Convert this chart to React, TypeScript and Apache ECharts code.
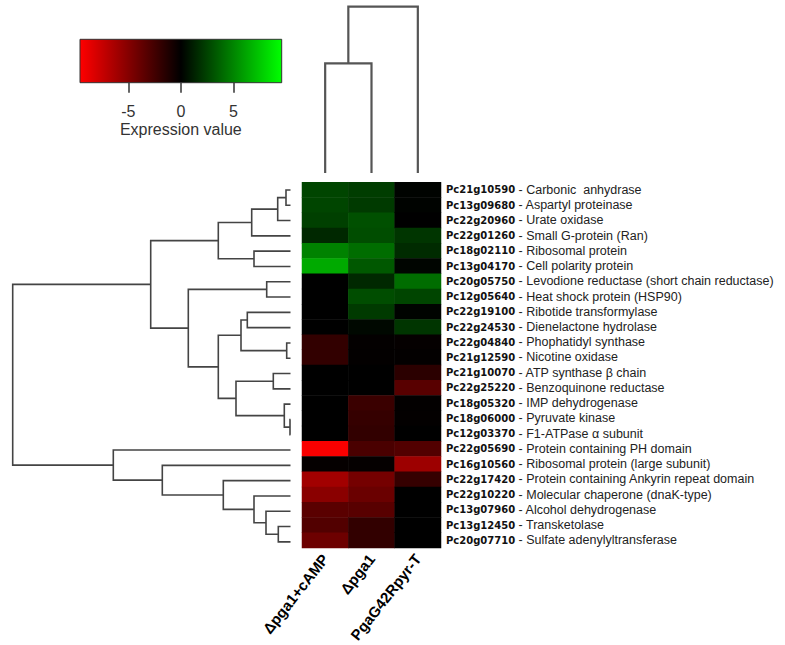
import React, { useEffect, useRef } from "react";
import * as echarts from "echarts";

// ---- data ----
const columns = ["Δpga1+cAMP", "Δpga1", "PgaG42Rpyr-T"];

const geneIds = [
  "Pc21g10590", "Pc13g09680", "Pc22g20960", "Pc22g01260", "Pc18g02110", "Pc13g04170",
  "Pc20g05750", "Pc12g05640", "Pc22g19100", "Pc22g24530", "Pc22g04840", "Pc21g12590",
  "Pc21g10070", "Pc22g25220", "Pc18g05320", "Pc18g06000", "Pc12g03370", "Pc22g05690",
  "Pc16g10560", "Pc22g17420", "Pc22g10220", "Pc13g07960", "Pc13g12450", "Pc20g07710",
];

const geneNames = [
  "Carbonic  anhydrase", "Aspartyl proteinase", "Urate oxidase", "Small G-protein (Ran)",
  "Ribosomal protein", "Cell polarity protein", "Levodione reductase (short chain reductase)",
  "Heat shock protein (HSP90)", "Ribotide transformylase", "Dienelactone hydrolase",
  "Phophatidyl synthase", "Nicotine oxidase", "ATP synthase β chain", "Benzoquinone reductase",
  "IMP dehydrogenase", "Pyruvate kinase", "F1-ATPase α subunit", "Protein containing PH domain",
  "Ribosomal protein (large subunit)", "Protein containing Ankyrin repeat domain",
  "Molecular chaperone (dnaK-type)", "Alcohol dehydrogenase", "Transketolase",
  "Sulfate adenylyltransferase",
];

const valuesPga1cAMP = [
  2.6, 2.6, 2.4, 1.5, 4.9, 6.4, 0.0, 0.0, 0.0, 0.0, -1.9, -1.9,
  0.0, 0.0, 0.0, 0.0, 0.0, -9.4, -0.2, -6.1, -5.2, -3.4, -3.1, -4.1,
];
const valuesPga1 = [
  2.3, 2.2, 3.0, 2.9, 4.1, 3.3, 1.5, 2.9, 2.2, 0.3, -0.1, -0.1,
  0.0, 0.0, -2.2, -2.0, -1.9, -2.8, -0.2, -4.4, -4.0, -3.3, -1.9, -1.9,
];
const valuesPyrT = [
  0.1, 0.1, 0.0, 2.0, 1.6, 0.2, 4.1, 2.6, 0.1, 2.0, -0.2, -0.1,
  -1.6, -3.3, -0.1, -0.1, 0.0, -3.1, -5.9, -2.0, 0.0, 0.0, 0.0, 0.0,
];

// hclust-style merges: negative = leaf (1-based), positive = earlier merge (1-based); third = height
const rowMerges: number[][] = [
  [-1, -2, 0.45], [1, -3, 1.28], [2, -4, 3.88], [-5, -6, 3.65], [3, 4, 7.22],
  [-7, -8, 2.38], [-9, -10, 4.32], [-11, -12, 0.38], [7, 8, 4.95], [-13, -14, 1.72],
  [-16, -17, 0.05], [-15, 11, 0.62], [10, 12, 5.45], [9, 13, 7.22], [6, 14, 10.22],
  [5, 15, 13.98], [-23, -24, 1.22], [-22, 17, 2.45], [-21, 18, 3.65], [-20, 19, 6.72],
  [-19, 20, 12.82], [-18, 21, 17.72], [16, 22, 27.78],
];
const colMerges: number[][] = [
  [-1, -2, 10.97], [1, -3, 16.63],
];

const scaleMin = -9.6;
const scaleMax = 9.6;
const scaleTicks = [-5, 0, 5];

// ---- helpers ----
function layoutDendro(merges: number[][]) {
  const nodes: { p: number; h: number }[] = [];
  const segs: number[][] = [];
  const get = (ref: number) => (ref < 0 ? { p: -ref - 0.5, h: 0 } : nodes[ref - 1]);
  merges.forEach(([a, b, h]) => {
    const A = get(a);
    const B = get(b);
    segs.push([A.h, A.p, h, B.p, B.h]);
    nodes.push({ p: (A.p + B.p) / 2, h });
  });
  return segs;
}

export default function App() {
  const ref = useRef<HTMLDivElement>(null);

  useEffect(() => {
    if (!ref.current) return;
    const chart = echarts.init(ref.current, null, { renderer: "svg" });

    const colVals = [valuesPga1cAMP, valuesPga1, valuesPyrT];
    const heatData: number[][] = [];
    colVals.forEach((arr, c) => arr.forEach((v, r) => heatData.push([c, r, v])));

    const rowSegs = layoutDendro(rowMerges);
    const colSegs = layoutDendro(colMerges);
    const rootRow = rowMerges[rowMerges.length - 1][2];
    const rootCol = colMerges[colMerges.length - 1][2];

    const hmTop = 182.3;
    const hmHeight = 367.2;
    const hmLeft = 302;
    const hmWidth = 139;

    const option: any = {
      animation: false,
      backgroundColor: "#ffffff",
      grid: [
        { left: hmLeft, top: hmTop, width: hmWidth, height: hmHeight },
        { left: 12.7, top: hmTop, width: 277.8, height: hmHeight },
        { left: hmLeft, top: 6.7, width: hmWidth, height: 166.3 },
        { left: 80, top: 39.3, width: 201.7, height: 43.4 },
      ],
      xAxis: [
        {
          gridIndex: 0,
          type: "category",
          data: columns,
          position: "bottom",
          axisLine: { show: false },
          axisTick: { show: false },
          axisLabel: {
            interval: 0,
            rotate: 52,
            margin: 8,
            fontFamily: "Liberation Sans",
            fontWeight: "bold",
            fontSize: 15,
            color: "#000",
          },
        },
        {
          gridIndex: 1,
          type: "value",
          min: 0,
          max: rootRow,
          inverse: true,
          show: false,
        },
        {
          gridIndex: 2,
          type: "value",
          min: 0,
          max: columns.length,
          show: false,
        },
        {
          gridIndex: 3,
          type: "value",
          min: scaleMin,
          max: scaleMax,
          position: "bottom",
          axisLine: { show: false },
          splitLine: { show: false },
          axisTick: {
            show: true,
            customValues: scaleTicks,
            length: 10,
            lineStyle: { color: "#333", width: 1.5 },
          },
          axisLabel: {
            customValues: scaleTicks,
            margin: 21,
            fontFamily: "Liberation Sans",
            fontSize: 16,
            color: "#333",
          },
          name: "Expression value",
          nameLocation: "middle",
          nameGap: 39,
          nameTextStyle: { fontFamily: "Liberation Sans", fontSize: 16, color: "#333" },
        },
      ],
      yAxis: [
        {
          gridIndex: 0,
          type: "category",
          data: geneIds,
          inverse: true,
          position: "right",
          axisLine: { show: false },
          axisTick: { show: false },
          axisLabel: {
            interval: 0,
            margin: 5,
            fontFamily: "Liberation Sans",
            fontSize: 12.5,
            color: "#222",
            formatter: (_v: string, i: number) => `{id|${geneIds[i]}} {d|- ${geneNames[i]}}`,
            rich: {
              id: { fontFamily: "DejaVu Sans", fontWeight: "bold", fontSize: 10, color: "#111" },
              d: { fontFamily: "Liberation Sans", fontSize: 12.5, color: "#222" },
            },
          },
        },
        {
          gridIndex: 1,
          type: "value",
          min: 0,
          max: geneIds.length,
          inverse: true,
          show: false,
        },
        {
          gridIndex: 2,
          type: "value",
          min: 0,
          max: rootCol,
          show: false,
        },
        {
          gridIndex: 3,
          type: "value",
          min: 0,
          max: 1,
          show: false,
        },
      ],
      visualMap: {
        show: false,
        type: "continuous",
        min: scaleMin,
        max: scaleMax,
        dimension: 2,
        seriesIndex: 0,
        inRange: { color: ["#ff0000", "#000000", "#00ff00"] },
      },
      series: [
        {
          type: "heatmap",
          xAxisIndex: 0,
          yAxisIndex: 0,
          data: heatData,
          itemStyle: { borderWidth: 0 },
          emphasis: { disabled: true },
        },
        {
          type: "custom",
          xAxisIndex: 1,
          yAxisIndex: 1,
          data: rowSegs,
          renderItem: (_p: any, api: any) => {
            const hA = api.value(0), pA = api.value(1), h = api.value(2), pB = api.value(3), hB = api.value(4);
            return {
              type: "polyline",
              shape: { points: [api.coord([hA, pA]), api.coord([h, pA]), api.coord([h, pB]), api.coord([hB, pB])] },
              style: { stroke: "#444", lineWidth: 1.6, fill: null },
            };
          },
        },
        {
          type: "custom",
          xAxisIndex: 2,
          yAxisIndex: 2,
          data: colSegs,
          renderItem: (_p: any, api: any) => {
            const hA = api.value(0), pA = api.value(1), h = api.value(2), pB = api.value(3), hB = api.value(4);
            return {
              type: "polyline",
              shape: { points: [api.coord([pA, hA]), api.coord([pA, h]), api.coord([pB, h]), api.coord([pB, hB])] },
              style: { stroke: "#555", lineWidth: 2.2, fill: null },
            };
          },
        },
        {
          type: "custom",
          xAxisIndex: 3,
          yAxisIndex: 3,
          data: [[scaleMin, 0, scaleMax, 1]],
          renderItem: (_p: any, api: any) => {
            const a = api.coord([api.value(0), api.value(3)]);
            const b = api.coord([api.value(2), api.value(1)]);
            return {
              type: "rect",
              shape: { x: a[0], y: a[1], width: b[0] - a[0], height: b[1] - a[1] },
              style: {
                fill: new echarts.graphic.LinearGradient(0, 0, 1, 0, [
                  { offset: 0, color: "#ff0000" },
                  { offset: 0.5, color: "#000000" },
                  { offset: 1, color: "#00ff00" },
                ]),
                stroke: "#333",
                lineWidth: 1,
              },
            };
          },
        },
      ],
    };

    chart.setOption(option);
    return () => chart.dispose();
  }, []);

  return (
    <div
      ref={ref}
      style={{ position: "fixed", left: 0, top: 0, width: 785, height: 645 }}
    />
  );
}
